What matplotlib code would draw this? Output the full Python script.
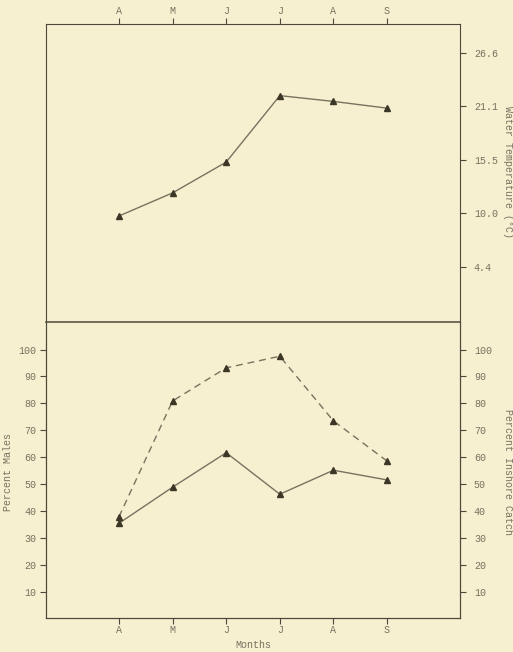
import numpy as np
import matplotlib.pyplot as plt

months = ['A', 'M', 'J', 'J', 'A', 'S']
water_temp = [9.7, 12.1, 15.3, 22.2, 21.6, 20.9]
temp_ticks = [4.4, 10.0, 15.5, 21.1, 26.6]
pct_males = [35.5, 48.9, 61.7, 46.3, 55.2, 51.6]
pct_inshore = [37.9, 80.9, 93.2, 97.5, 73.5, 58.6]
pct_ticks = [10, 20, 30, 40, 50, 60, 70, 80, 90, 100]

bg = '#f6efd0'
line_c = '#77735f'
mark_c = '#3b3626'
spine_c = '#4d493a'
text_c = '#75725f'

plt.rcParams['font.family'] = ['Liberation Mono', 'DejaVu Sans Mono']
plt.rcParams['font.size'] = 7.2
plt.rcParams['text.color'] = text_c
plt.rcParams['axes.labelcolor'] = text_c
plt.rcParams['xtick.color'] = spine_c
plt.rcParams['ytick.color'] = spine_c
plt.rcParams['xtick.labelcolor'] = text_c
plt.rcParams['ytick.labelcolor'] = text_c
plt.rcParams['axes.edgecolor'] = spine_c

fig = plt.figure(figsize=(5.13, 6.52), dpi=100, facecolor=bg)
W, H = 513, 652
x = np.arange(len(months))
xlim = (-1.36, 6.36)

# top panel: water temperature
ax1 = fig.add_axes([0.0897, 0.5061, 0.807, 0.4571])
ax1.set_facecolor(bg)
ax1.plot(x, water_temp, color=line_c, lw=1.0, marker='^', ms=4.5,
         mfc=mark_c, mec=mark_c)
ax1.set_xlim(*xlim)
ax1.set_ylim(-1.31, 29.64)
ax1.xaxis.tick_top()
ax1.set_xticks(x)
ax1.set_xticklabels(months)
ax1.yaxis.tick_right()
ax1.set_yticks(temp_ticks)
ax1.set_yticklabels(['%.1f' % t for t in temp_ticks])
ax1.tick_params(length=4, width=0.8)
ax1.tick_params(axis='x', pad=1.5)
ax1.tick_params(axis='y', pad=6)
ax1.spines['bottom'].set_visible(False)

# bottom panel: percent males and inshore catch
ax2 = fig.add_axes([0.0897, 0.0521, 0.807, 0.4540])
ax2.set_facecolor(bg)
ax2.plot(x, pct_males, color=line_c, lw=1.0, marker='^', ms=4.5,
         mfc=mark_c, mec=mark_c)
ax2.set_xlim(*xlim)
ax2.set_ylim(0.35, 110.2)
ax2.set_xticks(x)
ax2.set_xticklabels(months)
ax2.set_yticks(pct_ticks)
ax2.tick_params(length=4, width=0.8)
ax2.tick_params(axis='x', pad=1)
ax2.tick_params(axis='y', pad=3)
ax2.spines['top'].set_linewidth(1.1)

ax3 = ax2.twinx()
ax3.plot(x, pct_inshore, color=line_c, lw=1.0, ls=(0, (5, 3.5)), marker='^',
         ms=4.5, mfc=mark_c, mec=mark_c)
ax3.set_ylim(0.35, 110.2)
ax3.set_yticks(pct_ticks)
ax3.tick_params(length=4, width=0.8, pad=6)
ax3.spines['top'].set_visible(False)

# axis titles placed at their pixel spots
fig.text(508 / W, 1 - 172 / H, 'Water Temperature (°C)', rotation=-90,
         ha='center', va='center')
fig.text(508 / W, 1 - 472 / H, 'Percent Inshore Catch', rotation=-90,
         ha='center', va='center')
fig.text(8 / W, 1 - 472 / H, 'Percent Males', rotation=90,
         ha='center', va='center')
fig.text(253 / W, 1 - 645 / H, 'Months', ha='center', va='center')

fig.savefig('out.png', dpi=100, facecolor=bg)
